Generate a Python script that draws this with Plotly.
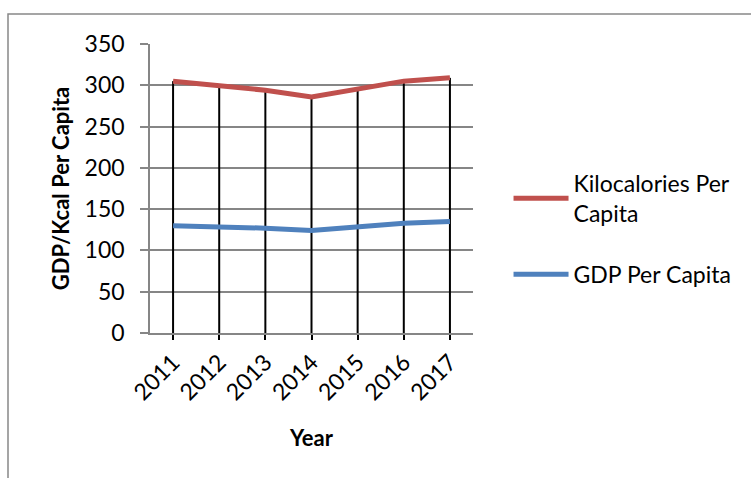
import plotly.graph_objects as go

years = ["2011", "2012", "2013", "2014", "2015", "2016", "2017"]
kcal = [305, 300, 294, 286, 295, 305, 309]
gdp = [130, 129, 127, 124, 128, 133, 135]
y_ticks = [0, 50, 100, 150, 200, 250, 300, 350]

FONT = "Lato"
FS = 23
fig = go.Figure()

# drop lines (black) from axis up to highest series
for yr, k, g in zip(years, kcal, gdp):
    fig.add_trace(go.Scatter(x=[yr, yr], y=[0, max(k, g)], mode="lines",
                             line=dict(color="black", width=2),
                             showlegend=False, hoverinfo="skip"))

fig.add_trace(go.Scatter(x=years, y=kcal, mode="lines", name="Kilocalories Per<br>Capita",
                         legendgroup="a",
                         line=dict(color="#C0504D", width=5)))
fig.add_trace(go.Scatter(x=years, y=gdp, mode="lines", name="GDP Per Capita",
                         legendgroup="b",
                         line=dict(color="#4F81BD", width=5)))

fig.update_layout(
    width=751, height=478,
    margin=dict(l=150, r=278, t=44, b=145),
    paper_bgcolor="white", plot_bgcolor="white",
    font=dict(family=FONT, size=FS, color="black"),
    xaxis=dict(type="category", tickangle=-45, showgrid=False,
               showline=True, linecolor="#868686", linewidth=1.5,
               ticks="outside", ticklen=5, tickcolor="black", tickwidth=1.5,
               title=dict(text="<b>Year</b>", font=dict(size=FS - 1), standoff=26),
               tickfont=dict(size=FS), range=[-0.5, 6.5]),
    yaxis=dict(range=[0, 350], tickvals=y_ticks, showgrid=True, gridcolor="#868686",
               gridwidth=1.5, showline=True, linecolor="#868686", linewidth=1.5,
               ticks="outside", ticklen=8, tickcolor="#868686", tickwidth=1.5,
               zeroline=False, ticklabelstandoff=11,
               title=dict(text="<b>GDP/Kcal Per Capita</b>", font=dict(size=FS - 1), standoff=9),
               tickfont=dict(size=FS)),
    legend=dict(x=1.11, y=0.36, xanchor="left", yanchor="middle",
                font=dict(size=FS), itemwidth=55, tracegroupgap=28,
                bgcolor="rgba(0,0,0,0)"),
    shapes=[dict(type="rect", xref="paper", yref="paper",
                 x0=(8 - 150) / 323, x1=2, y0=-1, y1=1 + (44 - 14) / 289,
                 line=dict(color="#888888", width=1.5), fillcolor="rgba(0,0,0,0)", layer="below")],
)

fig.write_html("out.html")
